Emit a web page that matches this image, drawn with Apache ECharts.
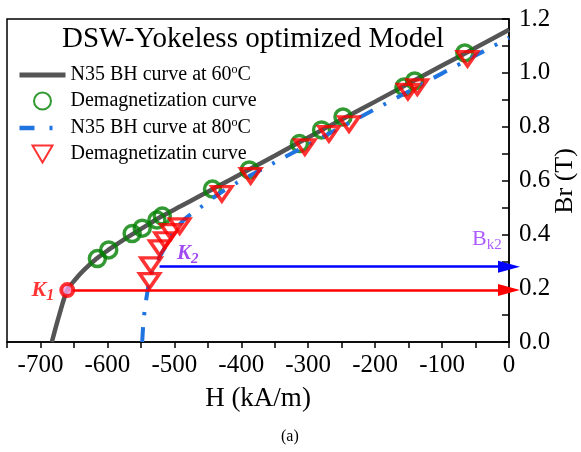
<!DOCTYPE html>
<html><head><meta charset="utf-8">
<script src="https://cdn.jsdelivr.net/npm/echarts@6/dist/echarts.min.js"></script>
<style>html,body{margin:0;padding:0;background:#fff}#c{width:581px;height:452px}</style>
</head><body><div id="c"></div>
<script>
// 60°C BH curve
const h60 = [-683,-672,-660,-648,-636,-616,-598,-580,-563,-540,-518,-490,-460,-430,-400,-350,-300,-250,-200,-150,-100,-50,0];
const b60 = [0,0.1,0.193,0.232,0.265,0.31,0.343,0.373,0.4,0.435,0.468,0.505,0.545,0.585,0.625,0.692,0.76,0.827,0.893,0.96,1.027,1.093,1.16];
// 80°C BH curve
const h80 = [-548,-546,-543,-540,-536,-530,-522,-512,-502,-485,-462,-435,-405,-350,-300,-250,-200,-150,-100,-50,0];
const b80 = [0,0.08,0.14,0.19,0.24,0.28,0.316,0.36,0.405,0.455,0.498,0.548,0.594,0.667,0.733,0.799,0.865,0.931,0.998,1.064,1.13];
// demagnetization points (60°C, circles)
const hDemag60 = [-615,-598,-563,-548,-526,-518,-443,-388,-313,-280,-248,-157,-141,-66];
const bDemag60 = [0.31,0.342,0.403,0.423,0.453,0.468,0.568,0.639,0.737,0.788,0.836,0.947,0.97,1.074];
// demagnetization points (80°C, triangles)
const hDemag80 = [-537,-535,-522,-514,-505,-492,-429,-386,-305,-269,-239,-151,-137,-62];
const bDemag80 = [0.227,0.286,0.349,0.379,0.409,0.431,0.55,0.617,0.724,0.773,0.81,0.93,0.947,1.052];
// knee points
const k1 = [-660, 0.193];
const k2Start = [-522, 0.28];
const k2LabelPos = [-480, 0.33];
const bk2LabelPos = [-33, 0.38];
const xTicks = [-700,-600,-500,-400,-300,-200,-100,0];
const names = ['N35 BH curve at 60ºC','Demagnetization curve','N35 BH curve at 80ºC','Demagnetizatin curve'];

const zip = (a,b)=>a.map((v,i)=>[v,b[i]]);
const serif = 'Liberation Serif';
const triDown = 'path://M0,0L20,0L10,17Z';
const chart = echarts.init(document.getElementById('c'));
chart.setOption({
  animation:false,
  textStyle:{fontFamily:serif},
  grid:{left:7,right:72,top:19,bottom:110,show:true,borderColor:'#000',borderWidth:1.5,
    containLabel:false,outerBoundsMode:'none'},
  graphic:[
    {type:'text',left:62,top:25,style:{text:'DSW-Yokeless optimized Model',font:'29px "Liberation Serif"',fill:'#000'}},
    {type:'text',left:281,top:429,style:{text:'(a)',font:'16px "Liberation Serif"',fill:'#000'}},
    {type:'text',x:565,y:181,rotation:Math.PI/2,
      style:{text:'Br (T)',font:'26px "Liberation Serif"',fill:'#000',textAlign:'center',textVerticalAlign:'middle'}}
  ],
  legend:{
    orient:'vertical',left:12,top:59,itemWidth:46,itemHeight:17,itemGap:6,symbolKeepAspect:true,
    data:[
      {name:names[0],itemStyle:{opacity:0},lineStyle:{width:5,color:'#555'}},
      {name:names[1]},
      {name:names[2],itemStyle:{opacity:0},lineStyle:{width:4.5,color:'#1f74e0',type:[15,15,3,30]}},
      {name:names[3]}
    ],
    formatter:n=>n.replace('ºC','{sup|o}C'),
    textStyle:{fontFamily:serif,fontSize:20,color:'#000',
      rich:{sup:{fontSize:12,fontFamily:serif,padding:[0,0,10,0],color:'#000'}}}
  },
  xAxis:{
    type:'value',min:-750,max:0,interval:50,
    name:'H (kA/m)',nameLocation:'middle',nameGap:43,
    nameTextStyle:{fontFamily:serif,fontSize:27,color:'#000'},
    axisLine:{show:true,onZero:false,lineStyle:{color:'#000',width:1.5}},
    axisTick:{show:true,inside:false,length:6,lineStyle:{color:'#000',width:1.5}},
    axisLabel:{margin:11,fontFamily:serif,fontSize:25,color:'#000',
      formatter:v=>xTicks.includes(v)?String(v):''},
    splitLine:{show:false}
  },
  yAxis:{
    type:'value',position:'right',min:0,max:1.2,interval:0.2,
    axisLine:{show:true,onZero:false,lineStyle:{color:'#000',width:1.5}},
    axisTick:{show:true,inside:true,length:7,lineStyle:{color:'#000',width:1.5}},
    minorTick:{show:true,splitNumber:2,length:7,lineStyle:{color:'#000',width:1.5}},
    axisLabel:{margin:10,fontFamily:serif,fontSize:25,color:'#000',formatter:v=>v.toFixed(1)},
    splitLine:{show:false}
  },
  series:[
    {name:names[0],type:'line',data:zip(h60,b60),symbol:'none',smooth:0.3,
      lineStyle:{color:'#555',width:4.5},itemStyle:{color:'#555'},z:2},
    {name:names[1],type:'scatter',data:zip(hDemag60,bDemag60),symbol:'circle',symbolSize:16,
      itemStyle:{color:'rgba(0,0,0,0)',borderColor:'#008000',borderWidth:3.5},z:3},
    {name:names[2],type:'line',data:zip(h80,b80),symbol:'none',smooth:0.3,
      lineStyle:{color:'#1f74e0',width:4,type:[15,12,3,12]},itemStyle:{color:'#1f74e0'},z:4},
    {name:names[3],type:'scatter',data:zip(hDemag80,bDemag80),symbol:triDown,symbolKeepAspect:true,symbolSize:[20,17],
      itemStyle:{color:'rgba(0,0,0,0)',borderColor:'#ff0000',borderWidth:3.5},z:5},
    {type:'line',data:[],silent:true,z:6,
      markLine:{silent:true,symbol:['none','triangle'],symbolSize:[12,22],label:{show:false},
        emphasis:{disabled:true},
        data:[
          [{coord:k1,lineStyle:{color:'#ff0000',width:2.5,type:'solid'},itemStyle:{color:'#ff0000'}},{coord:[0,k1[1]]}],
          [{coord:k2Start,lineStyle:{color:'#0000ff',width:2.5,type:'solid'},itemStyle:{color:'#0000ff'}},{coord:[0,k2Start[1]]}]
        ]}},
    {type:'scatter',data:[k1],symbol:'circle',symbolSize:12,z:8,
      itemStyle:{color:'#f3a6ec',borderColor:'#ff0000',borderWidth:4},
      label:{show:true,position:'left',distance:5,formatter:'{k|K}{s|1}',
        rich:{k:{fontFamily:serif,fontSize:22,fontWeight:'bold',fontStyle:'italic',color:'#ff0000'},
              s:{fontFamily:serif,fontSize:16,fontWeight:'bold',fontStyle:'italic',color:'#ff0000',padding:[12,0,0,0]}}}},
    {type:'scatter',data:[k2LabelPos],symbolSize:0,z:8,silent:true,
      label:{show:true,position:'inside',formatter:'{k|K}{s|2}',
        rich:{k:{fontFamily:serif,fontSize:21,fontWeight:'bold',fontStyle:'italic',color:'#8a1cf0'},
              s:{fontFamily:serif,fontSize:15,fontWeight:'bold',fontStyle:'italic',color:'#8a1cf0',padding:[11,0,0,0]}}}},
    {type:'scatter',data:[bk2LabelPos],symbolSize:0,z:8,silent:true,
      label:{show:true,position:'inside',formatter:'{k|B}{s|k2}',
        rich:{k:{fontFamily:serif,fontSize:22,color:'#9933ff'},
              s:{fontFamily:serif,fontSize:15,color:'#9933ff',padding:[11,0,0,0]}}}}
  ]
});
</script></body></html>
